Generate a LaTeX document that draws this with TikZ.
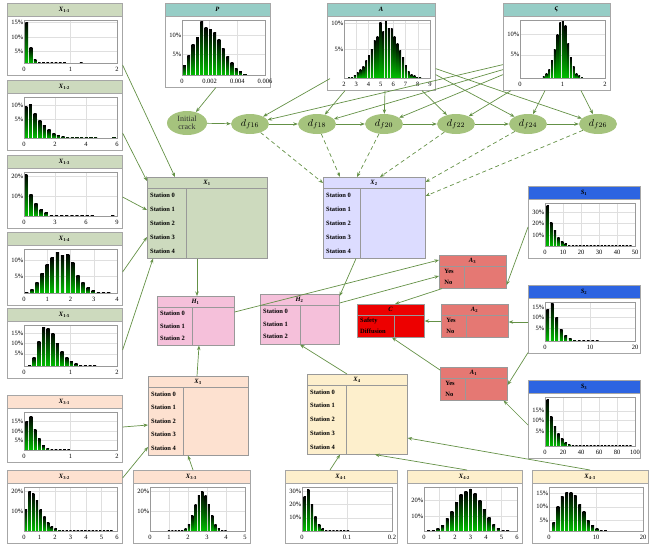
\documentclass[tikz,border=0pt]{standalone}
\usepackage{fontspec}
\setmainfont{Liberation Serif}
\usetikzlibrary{calc,arrows.meta,shapes.geometric}
\definecolor{edge}{RGB}{100,145,70}
\definecolor{gX1}{RGB}{205,218,190}
\definecolor{tealh}{RGB}{150,205,198}
\definecolor{blueh}{RGB}{45,100,225}
\definecolor{peach}{RGB}{253,225,208}
\definecolor{yel}{RGB}{253,239,204}
\definecolor{lav}{RGB}{220,220,255}
\definecolor{pinkh}{RGB}{245,192,218}
\definecolor{redA}{RGB}{229,120,115}
\definecolor{redC}{RGB}{237,0,0}
\definecolor{ellc}{RGB}{165,195,125}
\newcommand\ttl{\fontsize{6.5}{7}\selectfont\bfseries}
\newcommand\lab{\fontsize{6.5}{7}\selectfont}
\newcommand\rw{\fontsize{6.5}{7}\selectfont\bfseries}
\newcommand\cfg[4]{\def\bs{#1}\def\bst{#2}\def\xl{#3}\def\yl{#4}}
\newcommand\panel[8]{%
\node[draw=gray!70, fill=white, line width=0.6pt, minimum width={(#4-#2)*1pt}, minimum height={(#5-#3)*1pt}, inner sep=0, anchor=north west] (#1) at (#2,#3) {};
\fill[#7] (#2,#3) rectangle (#4,#3+13);
\draw[gray!70,line width=0.6pt] (#2,#3) rectangle (#4,#5);
\draw[gray!70] (#2,#3+13)--(#4,#3+13);
\node[font=\ttl] at ({(#2+#4)/2},#3+6.5) {#6};
\pgfmathsetmacro\pL{#2+17}\pgfmathsetmacro\pR{#4-5}\pgfmathsetmacro\pT{#3+17}\pgfmathsetmacro\pB{#5-12}
\foreach \fr/\lb in \yl {\draw[gray!25] (\pL,{\pB-\fr*(\pB-\pT)}) -- (\pR,{\pB-\fr*(\pB-\pT)});
  \node[font=\lab,anchor=east,inner sep=0.5pt] at (\pL,{\pB-\fr*(\pB-\pT)}) {\lb};}
\foreach \fr/\lb in \xl {\draw[gray!25] ({\pL+\fr*(\pR-\pL)},\pT) -- ({\pL+\fr*(\pR-\pL)},\pB);
  \node[font=\lab,inner sep=0] at ({\pL+\fr*(\pR-\pL)},\pB+6) {\lb};}
\pgfmathsetmacro\bw{\bst*(\pR-\pL)*0.32}
\foreach \h [count=\i from 0] in {#8} {\pgfmathsetmacro\bx{\pL+(\bs+\i*\bst)*(\pR-\pL)}
  \shade[top color=black,bottom color=green!75!black] (\bx-\bw,\pB) rectangle (\bx+\bw,{\pB-\h*(\pB-\pT)});}
\draw[gray!80,line width=0.6pt] (\pL,\pT) rectangle (\pR,\pB);
}
\newcommand\tbl[9]{%
\node[draw=gray!80, fill=#8, line width=0.6pt, minimum width={(#4-#2)*1pt}, minimum height={(#5-#3)*1pt}, inner sep=0, anchor=north west] (#1) at (#2,#3) {};
\draw[gray!80] (#2,#3+11) -- (#4,#3+11) (#6,#3+11) -- (#6,#5);
\node[font=\ttl] at ({(#2+#4)/2},#3+5.5) {#7};
\foreach \r [count=\i] in {#9} \node[font=\rw,anchor=west,inner sep=0] at (#2+3,{#3+11+(\i-0.5)*\rh}) {\r};
}
\newcommand\Xs[1]{\textit{X}\textsubscript{#1}}
\begin{document}
\begin{tikzpicture}[x=1pt,y=-1pt,
 ed/.style={draw=edge, line width=0.7pt, -{Stealth[length=4.5pt,width=3.5pt]}},
 dsh/.style={ed,dash pattern=on 4pt off 3pt},
 el/.style={ellipse, fill=ellc, minimum width=38pt, minimum height=20pt, inner sep=0, font=\fontsize{10}{11}\selectfont}]
\useasboundingbox (0,0) rectangle (650,547);
% left panels
\cfg{0.03}{0.045}{0/0,0.5/1,1/2}{0.95/15\%,0.6/10\%,0.28/5\%}
\panel{X11}{7}{3}{122}{75}{\Xs{1-1}}{gX1}{0.95,0.35,0.08,0.02,0.02,0.02,0.02,0.02,0.02,0.02,0,0,0,0.02}
\cfg{0.02}{0.05}{0/0,0.333/2,0.667/4,1/6}{0.8/10\%,0.45/5\%}
\panel{X12}{7}{80}{122}{150}{\Xs{1-2}}{gX1}{0.78,0.82,0.6,0.43,0.3,0.2,0.12,0.07,0.04,0.03,0.03,0.03,0.03,0.03,0.03,0.03,0,0,0,0.03}
\cfg{0.02}{0.055}{0/0,0.333/3,0.667/6,1/9}{0.9/20\%,0.45/10\%}
\panel{X13}{7}{155}{122}{228}{\Xs{1-3}}{gX1}{0.95,0.5,0.28,0.15,0.08,0.02,0.02,0.02,0.02,0.02,0.02,0.02,0.02,0.02,0,0,0,0.02}
\cfg{0.03}{0.055}{0/0,0.25/1,0.5/2,0.75/3,1/4}{0.75/10\%,0.38/5\%}
\panel{X14}{7}{232}{122}{305}{\Xs{1-4}}{gX1}{0.02,0.08,0.25,0.45,0.65,0.8,0.93,0.85,0.88,0.7,0.4,0.25,0.12,0.05,0.02,0.02,0.02}
\cfg{0.06}{0.05}{0/0,0.5/1,1/2}{0.8/15\%,0.55/10\%,0.3/5\%}
\panel{X15}{7}{308}{122}{378}{\Xs{1-5}}{gX1}{0.02,0.2,0.6,0.95,0.92,0.8,0.55,0.35,0.2,0.12,0.05,0.02,0.02,0.02,0.02}
% top
\cfg{0.03}{0.052}{0/0,0.333/0.002,0.667/0.004,1/0.006}{0.72/10\%,0.38/5\%}
\panel{P}{165}{3}{270}{87}{\textit{P}}{tealh}{0.18,0.35,0.55,0.68,0.97,0.87,0.83,0.78,0.65,0.48,0.33,0.22,0.12,0.06,0.02}
\cfg{0.06}{0.033}{0/2,0.1429/3,0.2857/4,0.4286/5,0.5714/6,0.7143/7,0.8571/8,1/9}{0.95/10\%,0.5/5\%}
\panel{A}{327}{3}{435}{90}{\textit{A}}{tealh}{0.02,0.02,0.05,0.1,0.15,0.2,0.3,0.38,0.5,0.65,0.72,0.95,0.8,1.0,0.85,0.85,0.72,0.6,0.48,0.35,0.22,0.12,0.06,0.04,0.02,0.02}
\cfg{0.28}{0.032}{0/0,0.5/1,1/2}{0.75/10\%,0.4/5\%}
\panel{Z}{503}{3}{610}{90}{\fontsize{8}{8}\selectfont\textit{ς}}{tealh}{0.03,0.08,0.15,0.3,0.5,0.75,0.95,1.0,0.9,0.6,0.35,0.2,0.08,0.04,0.02}
% right
\cfg{0.03}{0.04}{0/0,0.2/10,0.4/20,0.6/30,0.8/40,1/50}{0.78/30\%,0.52/20\%,0.25/10\%}
\panel{S1}{528}{186}{640}{258}{\textit{S}\textsubscript{1}}{blueh}{0.95,0.55,0.35,0.2,0.1,0.05,0.02,0.02,0.02,0.02,0.02,0.02,0.02,0.02,0.02,0.02,0.02,0.02,0.02,0.02,0.02,0.02,0.02,0.02}
\cfg{0.03}{0.05}{0/0,0.5/10,1/20}{0.85/15\%,0.6/10\%,0.32/5\%}
\panel{S2}{528}{285}{640}{353}{\textit{S}\textsubscript{2}}{blueh}{0.8,0.95,0.6,0.3,0.15,0.07,0.03,0.02,0.02,0.02,0.02,0.02}
\cfg{0.03}{0.04}{0/0,0.2/20,0.4/40,0.6/60,0.8/80,1/100}{0.72/15\%,0.52/10\%,0.3/5\%}
\panel{S3}{528}{380}{640}{458}{\textit{S}\textsubscript{3}}{blueh}{0.95,0.6,0.4,0.25,0.15,0.08,0.04,0.02,0.02,0.02,0.02,0.02,0.02,0.02,0.02,0.02,0.02,0.02,0.02,0.02,0.02,0.02,0.02,0.02}
% bottom
\cfg{0.03}{0.045}{0/0,0.5/1,1/2}{0.75/15\%,0.5/10\%,0.25/5\%}
\panel{X31}{7}{395}{122}{462}{\Xs{3-1}}{peach}{0.75,0.88,0.55,0.3,0.12,0.05,0.02,0.02,0.02,0.02,0.02}
\cfg{0.02}{0.04}{0/0,0.1667/1,0.3333/2,0.5/3,0.6667/4,0.8333/5,1/6}{0.9/20\%,0.45/10\%}
\panel{X32}{7}{470}{122}{543}{\Xs{3-2}}{peach}{0.5,0.9,0.85,0.7,0.5,0.32,0.2,0.1,0.05,0.03,0.02,0.02,0.02,0.02,0.02,0.02,0.02,0.02,0.02,0.02,0.02,0.02,0.02,0.02}
\cfg{0.2}{0.035}{0/0,0.2/1,0.4/2,0.6/3,0.8/4,1/5}{0.9/20\%,0.45/10\%}
\panel{X33}{133}{470}{250}{543}{\Xs{3-3}}{peach}{0.02,0.02,0.02,0.02,0.02,0.05,0.15,0.35,0.6,0.8,0.9,0.8,0.6,0.35,0.15,0.05,0.02,0.02}
\cfg{0.03}{0.04}{0/0,0.5/0.1,1/0.2}{0.9/30\%,0.6/20\%,0.3/10\%}
\panel{X41}{285}{470}{397}{543}{\Xs{4-1}}{yel}{0.78,0.95,0.6,0.32,0.15,0.05,0.02,0.02,0.02,0.02,0.02,0.02,0.02}
\cfg{0.05}{0.05}{0/0,0.1667/1,0.3333/2,0.5/3,0.6667/4,0.8333/5,1/6}{0.7/20\%,0.33/10\%}
\panel{X42}{407}{470}{522}{543}{\Xs{4-2}}{yel}{0.02,0.02,0.05,0.12,0.28,0.45,0.65,0.82,0.9,0.95,0.85,0.7,0.5,0.3,0.15,0.05,0.02,0.02}
\cfg{0.05}{0.046}{0/0,0.5/10,1/20}{0.85/15\%,0.55/10\%,0.25/5\%}
\panel{X43}{532}{470}{648}{543}{\Xs{4-3}}{yel}{0.2,0.55,0.78,0.88,0.88,0.8,0.6,0.45,0.25,0.12,0.05,0.02,0.02}
% tables
\def\rh{14}
\tbl{X1}{147}{177}{267}{258}{186}{\Xs{1}}{gX1}{Station 0,Station 1,Station 2,Station 3,Station 4}
\tbl{X2}{323}{177}{425}{258}{360}{\Xs{2}}{lav}{Station 0,Station 1,Station 2,Station 3,Station 4}
\def\rh{12.7}
\tbl{H1}{157}{296}{234}{345}{192}{\textit{H}\textsubscript{1}}{pinkh}{Station 0,Station 1,Station 2}
\tbl{H2}{260}{294}{339}{344}{300}{\textit{H}\textsubscript{2}}{pinkh}{Station 0,Station 1,Station 2}
\def\rh{11}
\tbl{C}{357}{304}{424}{337}{394}{\textit{C}}{redC}{Safety,Diffusion}
\tbl{A3}{439}{255}{506}{288}{464}{\textit{A}\textsubscript{3}}{redA}{\,\,Yes,\,\,No}
\tbl{A2}{441}{304}{508}{337}{466}{\textit{A}\textsubscript{2}}{redA}{\,\,Yes,\,\,No}
\tbl{A1}{440}{367}{507}{400}{465}{\textit{A}\textsubscript{1}}{redA}{\,\,Yes,\,\,No}
\def\rh{13.6}
\tbl{X3}{148}{376}{248}{455}{183}{\Xs{3}}{peach}{Station 0,Station 1,Station 2,Station 3,Station 4}
\def\rh{13.8}
\tbl{X4}{307}{374}{407}{454}{346}{\Xs{4}}{yel}{Station 0,Station 1,Station 2,Station 3,Station 4}
% ellipses
\node[el,minimum width=40pt,minimum height=24pt,align=center,font=\fontsize{8}{8}\selectfont,text=black!80] (crack) at (187,123) {Initial\\crack};
\node[el] (d16) at (250,124) {$d_{f16}$};
\node[el] (d18) at (317,124) {$d_{f18}$};
\node[el] (d20) at (384,124) {$d_{f20}$};
\node[el] (d22) at (456,124) {$d_{f22}$};
\node[el] (d24) at (528,124) {$d_{f24}$};
\node[el] (d26) at (598,124) {$d_{f26}$};
% edges
\draw[ed] ($(P.south)+(-2,0)$) -- (crack);
\draw[ed] (crack) -- (d16); \draw[ed] (d16) -- (d18); \draw[ed] (d18) -- (d20);
\draw[ed] (d20) -- (d22); \draw[ed] (d22) -- (d24); \draw[ed] (d24) -- (d26);
\draw[ed] ($(A.south west)+(3,-12)$) -- (d16);
\draw[ed] ($(A.south west)+(18,0)$) -- (d18);
\draw[ed] ($(A.south west)+(58,0)$) -- (d20);
\draw[ed] ($(A.south west)+(95,0)$) -- (d22);
\draw[ed] ($(A.south east)+(0,-16)$) -- (d24);
\draw[ed] ($(A.south east)+(0,-22)$) -- (d26);
\draw[ed] ($(Z.south west)+(0,-26)$) -- (d16);
\draw[ed] ($(Z.south west)+(0,-21)$) -- (d18);
\draw[ed] ($(Z.south west)+(0,-16)$) -- (d20);
\draw[ed] ($(Z.south west)+(8,0)$) -- (d22);
\draw[ed] ($(Z.south west)+(42,0)$) -- (d24);
\draw[ed] ($(Z.south west)+(78,0)$) -- (d26);
\draw[dsh] (d16) -- ($(X2.north west)+(0,6)$);
\draw[dsh] (d18) -- ($(X2.north west)+(17,0)$);
\draw[dsh] (d20) -- ($(X2.north west)+(34,0)$);
\draw[dsh] (d22) -- ($(X2.north west)+(57,0)$);
\draw[dsh] (d24) -- ($(X2.north east)+(0,5)$);
\draw[dsh] (d26) -- ($(X2.north east)+(0,19)$);
\draw[ed] ($(X11.north east)+(0,62)$) -- ($(X1.north west)+(28,0)$);
\draw[ed] ($(X12.north east)+(0,53)$) -- ($(X1.north west)+(0,4)$);
\draw[ed] ($(X13.north east)+(0,42)$) -- ($(X1.north west)+(0,33)$);
\draw[ed] ($(X14.north east)+(0,40)$) -- ($(X1.north west)+(0,60)$);
\draw[ed] ($(X15.north east)+(0,42)$) -- ($(X1.south west)+(6,0)$);
\draw[ed] ($(X1.south west)+(50,0)$) -- ($(H1.north west)+(40,0)$);
\draw[ed] ($(X3.north west)+(49,0)$) -- ($(H1.south west)+(42,0)$);
\draw[ed] ($(X2.south west)+(33,0)$) -- ($(H2.north east)+(0,2)$);
\draw[ed] ($(X4.north west)+(40,0)$) -- ($(H2.south west)+(40,0)$);
\draw[ed] ($(H1.north east)+(0,16)$) -- ($(A3.north west)+(0,5)$);
\draw[ed] ($(H2.north east)+(0,9)$) -- ($(A3.north west)+(0,21)$);
\draw[ed] ($(A3.south west)+(3,0)$) -- ($(C.north west)+(38,0)$);
\draw[ed] (A2.west |- 0,321) -- (C.east |- 0,321);
\draw[ed] ($(A1.north west)+(0,3)$) -- ($(C.south west)+(35,0)$);
\draw[ed] ($(S1.north west)+(0,41)$) -- ($(A3.north east)+(0,30)$);
\draw[ed] (S2.west |- 0,322) -- (A2.east |- 0,322);
\draw[ed] ($(S2.south west)+(0,-1)$) -- ($(A1.north east)+(0,18)$);
\draw[ed] ($(S3.north west)+(0,45)$) -- ($(A1.south east)+(-4,0)$);
\draw[ed] ($(X31.north east)+(0,32)$) -- ($(X3.north west)+(0,49)$);
\draw[ed] ($(X32.north east)+(0,8)$) -- ($(X3.north west)+(0,71)$);
\draw[ed] ($(X33.north west)+(60,0)$) -- ($(X3.south west)+(40,0)$);
\draw[ed] ($(X41.north west)+(45,0)$) -- ($(X4.south west)+(33,0)$);
\draw[ed] ($(X42.north west)+(60,0)$) -- ($(X4.south west)+(68,0)$);
\draw[ed] ($(X43.north west)+(58,0)$) -- ($(X4.north east)+(0,64)$);
\end{tikzpicture}
\end{document}
